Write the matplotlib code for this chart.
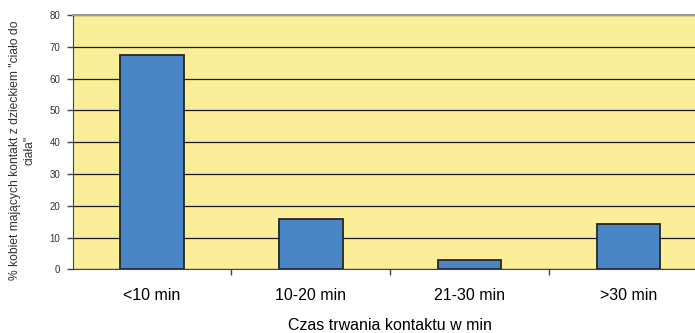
import matplotlib

matplotlib.use("Agg")
import matplotlib.pyplot as plt
import numpy as np

categories = ["<10 min", "10-20 min", "21-30 min", ">30 min"]
values = [67.4, 15.8, 2.9, 14.4]
y_ticks = [0, 10, 20, 30, 40, 50, 60, 70, 80]

plt.rcParams["font.family"] = ["Liberation Sans", "DejaVu Sans"]

fig = plt.figure(figsize=(6.95, 3.33), dpi=100)
ax = fig.add_axes([0.1045, 0.1907, 0.9137, 0.7643])
ax.set_facecolor("#fbee9b")

x = np.arange(len(categories))
ax.bar(x, values, width=0.40, color="#4a86c5", edgecolor="#262626",
       linewidth=1.3, zorder=3)

ax.set_xlim(-0.5, len(categories) - 0.5)
ax.set_ylim(0, 80)
ax.set_yticks(y_ticks)
ax.set_yticklabels([str(v) for v in y_ticks], fontsize=7, color="#333333")
ax.yaxis.grid(True, color="#1a1a1a", linewidth=0.9, zorder=1)
ax.set_axisbelow(True)

# category labels in the middle, ticks on the boundaries
ax.set_xticks(x)
ax.set_xticklabels(categories, fontsize=11.5)
ax.tick_params(axis="x", which="major", length=0, pad=13)
ax.set_xticks(np.arange(0.5, len(categories) - 0.5, 1), minor=True)
ax.tick_params(axis="x", which="minor", length=4, width=1, color="#444444")
ax.tick_params(axis="y", length=4, width=1, color="#444444", pad=5)

ax.spines["right"].set_visible(False)
ax.spines["top"].set_color("#999999")
ax.spines["top"].set_linewidth(1.5)
ax.spines["left"].set_color("#444444")
ax.spines["bottom"].set_color("#444444")

ax.set_xlabel("Czas trwania kontaktu w min", fontsize=11.5, labelpad=11)
ax.set_ylabel("% kobiet mających kontakt z dzieckiem \"ciało do\nciała\"",
              fontsize=8.7, color="#333333", linespacing=1.2)
ax.yaxis.set_label_coords(-0.059, 0.47)

fig.savefig("out.png", dpi=100)
